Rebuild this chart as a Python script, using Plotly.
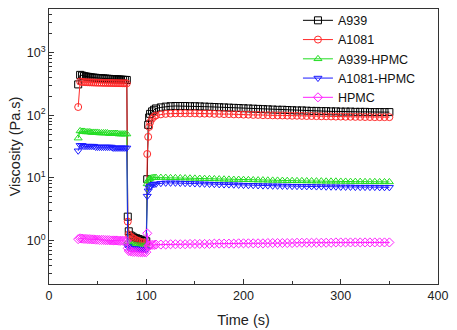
import plotly.graph_objects as go

# sampling times (s)
t_seg1 = list(range(30, 81, 2))
t_seg2 = [81, 82, 84, 86, 88, 90, 92, 94, 96, 98, 100]
t_seg3 = [101, 102, 103, 104, 106, 108, 110] + list(range(115, 351, 5))
time_s = t_seg1 + t_seg2 + t_seg3

A939 = (
    [310, 440, 430, 420, 415, 410, 405, 400, 398, 395, 392, 390, 388, 386, 384, 382, 380, 378, 376, 375, 374, 372, 370, 368, 366, 365]
    + [2.4, 1.4, 1.2, 1.15, 1.1, 1.08, 1.05, 1.03, 1.0, 0.98, 0.97]
    + [9.5, 70, 92, 105, 115, 122, 128]
    + [133, 137, 139, 140, 140, 140, 139, 139, 138, 137,
       136, 135, 134, 133, 132, 131, 130, 129, 128, 127,
       126, 125, 124, 123, 122, 122, 121, 120, 119, 119,
       118, 117, 117, 116, 116, 115, 115, 114, 114, 114,
       113, 113, 113, 112, 112, 112, 112, 112]
)
A1081 = (
    [135, 345, 340, 338, 336, 335, 334, 333, 332, 331, 330, 330, 329, 328, 328, 327, 327, 326, 326, 325, 325, 324, 324, 323, 323, 322]
    + [2.0, 1.25, 1.15, 1.1, 1.05, 1.0, 0.98, 0.95, 0.93, 0.92, 0.9]
    + [24, 45, 65, 77, 88, 95, 99]
    + [103, 105, 106, 107, 107, 107, 107, 107, 106, 106,
       106, 105, 105, 104, 104, 103, 103, 102, 102, 101,
       101, 100, 100, 99.5, 99, 99, 98.5, 98, 98, 97.5,
       97, 97, 96.5, 96, 96, 95.5, 95, 95, 94.5, 94.5,
       94, 94, 93.5, 93.5, 93, 93, 93, 93]
)
A939_HPMC = (
    [43, 56, 55, 55, 54, 54, 54, 53, 53, 53, 53, 52, 52, 52, 52, 52, 51, 51, 51, 51, 51, 50, 50, 50, 50, 50]
    + [0.95, 0.88, 0.86, 0.85, 0.84, 0.83, 0.82, 0.82, 0.81, 0.81, 0.8]
    + [8.0, 9.0, 9.5, 9.8, 10.0, 10.1, 10.1]
    + [10.1, 10.1, 10.0, 10.0, 9.95, 9.9, 9.85, 9.8, 9.75, 9.7,
       9.65, 9.6, 9.55, 9.5, 9.45, 9.4, 9.4, 9.35, 9.3, 9.25,
       9.2, 9.2, 9.15, 9.1, 9.1, 9.05, 9.0, 9.0, 8.95, 8.95,
       8.9, 8.9, 8.85, 8.85, 8.8, 8.8, 8.8, 8.75, 8.75, 8.7,
       8.7, 8.7, 8.65, 8.65, 8.65, 8.6, 8.6, 8.6]
)
A1081_HPMC = (
    [27, 33, 33, 32, 32, 32, 32, 32, 32, 31, 31, 31, 31, 31, 31, 31, 31, 31, 30, 30, 30, 30, 30, 30, 30, 30]
    + [0.8, 0.76, 0.75, 0.74, 0.74, 0.73, 0.73, 0.72, 0.72, 0.72, 0.71]
    + [5.1, 6.2, 6.9, 7.3, 7.7, 7.9, 8.0]
    + [8.2, 8.3, 8.3, 8.3, 8.25, 8.2, 8.15, 8.1, 8.05, 8.0,
       7.95, 7.9, 7.85, 7.8, 7.8, 7.75, 7.7, 7.65, 7.6, 7.6,
       7.55, 7.5, 7.5, 7.45, 7.45, 7.4, 7.4, 7.35, 7.35, 7.3,
       7.3, 7.3, 7.25, 7.25, 7.2, 7.2, 7.2, 7.15, 7.15, 7.15,
       7.1, 7.1, 7.1, 7.1, 7.1, 7.05, 7.05, 7.05]
)
HPMC = (
    [1.05, 1.08, 1.07, 1.06, 1.06, 1.05, 1.05, 1.04, 1.04, 1.03, 1.03, 1.02, 1.02, 1.02, 1.01, 1.01, 1.01, 1.0, 1.0, 1.0, 1.0, 0.99, 0.99, 0.99, 0.98, 0.98]
    + [0.75, 0.68, 0.67, 0.66, 0.66, 0.66, 0.65, 0.65, 0.65, 0.65, 0.65]
    + [1.3, 0.82, 0.83, 0.84, 0.85, 0.85, 0.86]
    + [0.86, 0.86, 0.87, 0.87, 0.87, 0.87, 0.88, 0.88, 0.88, 0.88,
       0.88, 0.89, 0.89, 0.89, 0.89, 0.89, 0.9, 0.9, 0.9, 0.9,
       0.9, 0.9, 0.91, 0.91, 0.91, 0.91, 0.91, 0.91, 0.92, 0.92,
       0.92, 0.92, 0.92, 0.92, 0.92, 0.92, 0.93, 0.93, 0.93, 0.93,
       0.93, 0.93, 0.93, 0.93, 0.93, 0.93, 0.93, 0.93]
)

series_names = ["A939", "A1081", "A939-HPMC", "A1081-HPMC", "HPMC"]
series_values = [A939, A1081, A939_HPMC, A1081_HPMC, HPMC]
colors = ["#000000", "#ff2a2a", "#22dd22", "#1a1aff", "#ff22ff"]
symbols = ["square-open", "circle-open", "triangle-up-open", "triangle-down-open", "diamond-open"]

y_tickvals = [1, 10, 100, 1000]
y_ticktext = ["10<sup>0</sup>", "10<sup>1</sup>", "10<sup>2</sup>", "10<sup>3</sup>"]
x_tickvals = [0, 100, 200, 300, 400]

fig = go.Figure()
for name, vals, c, s in zip(series_names, series_values, colors, symbols):
    fig.add_trace(go.Scatter(
        x=time_s, y=vals, name=name, mode="lines+markers",
        line=dict(color=c, width=1),
        marker=dict(symbol=s, size=7, color=c, line=dict(width=1, color=c)),
    ))

minor_y = [k * 10 ** n for n in range(-1, 4) for k in range(2, 10)]

fig.update_layout(
    width=457, height=330,
    margin=dict(l=49, r=19, t=6, b=46),
    paper_bgcolor="white", plot_bgcolor="white",
    font=dict(family="Arial, Liberation Sans, sans-serif", size=12, color="#222"),
    showlegend=True,
    legend=dict(x=0.64, y=1.012, xanchor="left", yanchor="top",
                bgcolor="rgba(0,0,0,0)", font=dict(size=12.5, color="#111"), tracegroupgap=0,
                itemwidth=30),
)
fig.update_xaxes(
    range=[0, 400], tickvals=x_tickvals, ticks="inside", ticklen=5, tickcolor="#333",
    showline=True, linecolor="#333", linewidth=1, mirror=True, showgrid=False, zeroline=False,
    minor=dict(tickvals=[50, 150, 250, 350], ticks="inside", ticklen=3, tickcolor="#333"),
    tickfont=dict(size=12.5),
    title=dict(text="Time (s)", font=dict(size=14.5), standoff=12),
)
fig.update_yaxes(
    type="log", range=[-0.695, 3.695], tickvals=y_tickvals, ticktext=y_ticktext,
    ticks="inside", ticklen=5, tickcolor="#333",
    showline=True, linecolor="#333", linewidth=1, mirror=True, showgrid=False, zeroline=False,
    minor=dict(tickvals=minor_y, ticks="inside", ticklen=3, tickcolor="#333"),
    tickfont=dict(size=12.5),
    title=dict(text="Viscosity (Pa.s)", font=dict(size=14.5), standoff=2),
)

fig.write_html("out.html")
